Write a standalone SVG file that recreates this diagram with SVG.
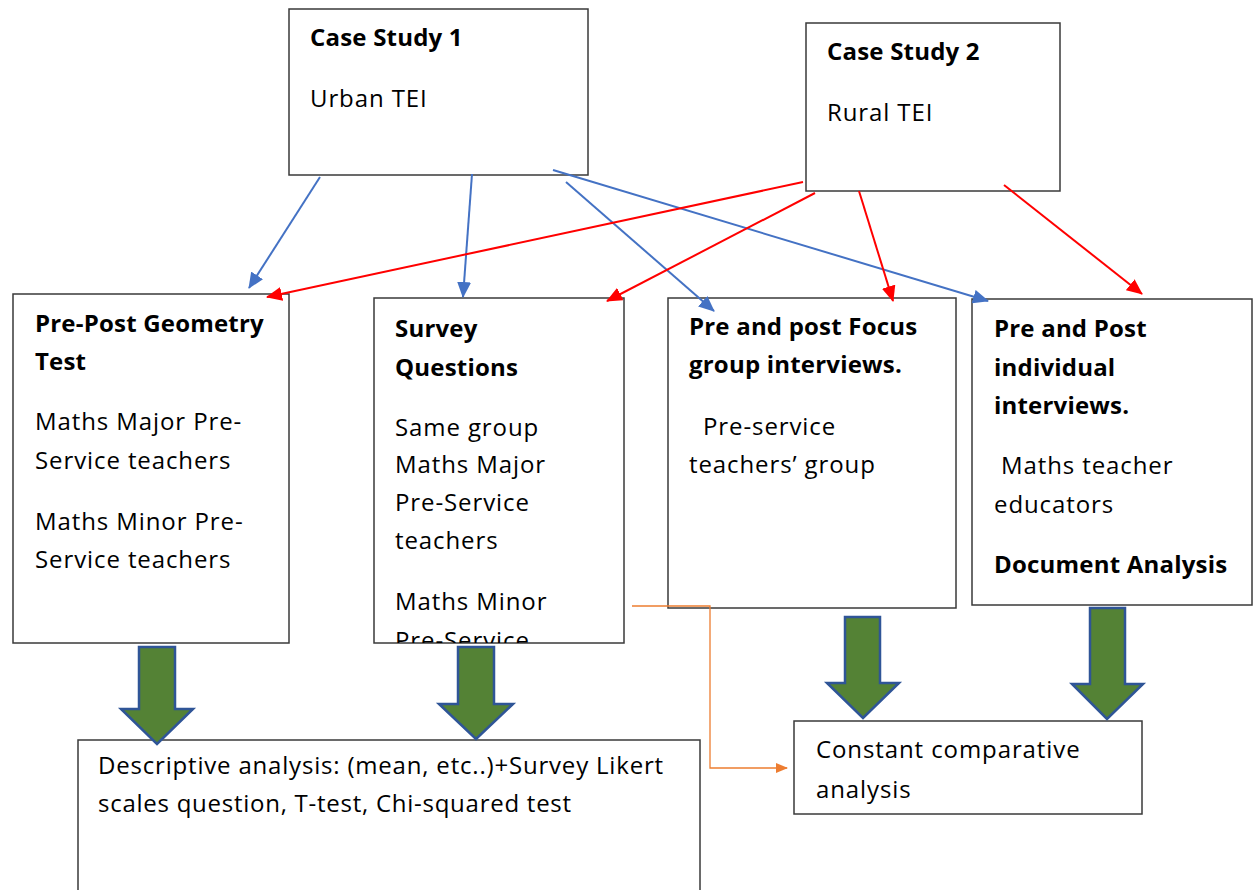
<svg xmlns="http://www.w3.org/2000/svg" width="1257" height="890" viewBox="0 0 1257 890">
<style>
.box{fill:#fff;stroke:#3a3a3a;stroke-width:1.5}
text{font-family:"Open Sans","Liberation Sans",sans-serif;font-size:24px;fill:#000;letter-spacing:0.9px}
text.b{font-weight:bold;letter-spacing:0.2px}
.blue{stroke:#4472C4;stroke-width:2;fill:none}
.red{stroke:#FF0000;stroke-width:2;fill:none}
.org{stroke:#ED7D31;stroke-width:1.3;fill:none}
.big{fill:#548235;stroke:#2F5597;stroke-width:2.5;stroke-linejoin:miter}
</style>
<defs>
<marker id="ab" markerUnits="userSpaceOnUse" markerWidth="16" markerHeight="14" refX="15" refY="7" orient="auto"><path d="M0,0 L16,7 L0,14 Z" fill="#4472C4"/></marker>
<marker id="ar" markerUnits="userSpaceOnUse" markerWidth="16" markerHeight="14" refX="15" refY="7" orient="auto"><path d="M0,0 L16,7 L0,14 Z" fill="#FF0000"/></marker>
<marker id="ao" markerUnits="userSpaceOnUse" markerWidth="12" markerHeight="10" refX="11" refY="5" orient="auto"><path d="M0,0 L12,5 L0,10 Z" fill="#ED7D31"/></marker>
<clipPath id="csurvey"><rect x="374" y="298" width="250" height="345"/></clipPath>
</defs>

<g id="case1">
<rect class="box" x="289" y="9" width="299" height="166"/>
<text class="b" x="310" y="46">Case Study 1</text>
<text x="310" y="107">Urban TEI</text>
</g>
<g id="case2">
<rect class="box" x="806" y="23" width="254" height="168"/>
<text class="b" x="827" y="60">Case Study 2</text>
<text x="827" y="121">Rural TEI</text>
</g>

<g id="geometry">
<rect class="box" x="13" y="294" width="276" height="349"/>
<text class="b" x="35" y="332">Pre-Post Geometry</text>
<text class="b" x="35" y="370">Test</text>
<text x="35" y="430">Maths Major Pre-</text>
<text x="35" y="469">Service teachers</text>
<text x="35" y="530">Maths Minor Pre-</text>
<text x="35" y="568">Service teachers</text>
</g>

<g id="survey">
<rect class="box" x="374" y="298" width="250" height="345"/>
<g clip-path="url(#csurvey)">
<text class="b" x="395" y="337">Survey</text>
<text class="b" x="395" y="376">Questions</text>
<text x="395" y="436">Same group</text>
<text x="395" y="473">Maths Major</text>
<text x="395" y="511">Pre-Service</text>
<text x="395" y="549">teachers</text>
<text x="395" y="610">Maths Minor</text>
<text x="395" y="649">Pre-Service</text>
</g>
</g>

<g id="focus">
<rect class="box" x="668" y="298" width="288" height="310"/>
<text class="b" x="689" y="335">Pre and post Focus</text>
<text class="b" x="689" y="373">group interviews.</text>
<text x="703" y="435">Pre-service</text>
<text x="689" y="473">teachers’ group</text>
</g>

<g id="individual">
<rect class="box" x="972" y="299" width="280" height="306"/>
<text class="b" x="994" y="337">Pre and Post</text>
<text class="b" x="994" y="376">individual</text>
<text class="b" x="994" y="414">interviews.</text>
<text x="1001" y="474">Maths teacher</text>
<text x="994" y="513">educators</text>
<text class="b" x="994" y="573">Document Analysis</text>
</g>

<g id="descriptive">
<rect class="box" x="78" y="740" width="622" height="160"/>
<text x="98" y="774" textLength="566" lengthAdjust="spacing">Descriptive analysis: (mean, etc..)+Survey Likert</text>
<text x="98" y="812" textLength="474" lengthAdjust="spacing">scales question, T-test, Chi-squared test</text>
</g>

<g id="constant">
<rect class="box" x="794" y="721" width="348" height="93"/>
<text x="816" y="758">Constant comparative</text>
<text x="816" y="798">analysis</text>
</g>

<g id="connectors">
<line class="blue" x1="320" y1="177" x2="249" y2="288" marker-end="url(#ab)"/>
<line class="blue" x1="472" y1="174" x2="463" y2="297" marker-end="url(#ab)"/>
<line class="blue" x1="566" y1="182" x2="714" y2="311" marker-end="url(#ab)"/>
<line class="blue" x1="553" y1="170" x2="988" y2="301" marker-end="url(#ab)"/>
<line class="red" x1="803" y1="182" x2="267" y2="297" marker-end="url(#ar)"/>
<line class="red" x1="815" y1="193" x2="607" y2="301" marker-end="url(#ar)"/>
<line class="red" x1="859" y1="191" x2="893" y2="301" marker-end="url(#ar)"/>
<line class="red" x1="1004" y1="185" x2="1142" y2="294" marker-end="url(#ar)"/>
<polyline class="org" points="632,606 710,606 710,768 787,768" marker-end="url(#ao)"/>
<path class="big" d="M139,647 H175 V709 H193 L157,744 L121,709 H139 Z"/>
<path class="big" d="M458,647 H494 V704 H513 L476,739 L439,704 H458 Z"/>
<path class="big" d="M845,617 H880 V683 H899 L863,718 L827,683 H845 Z"/>
<path class="big" d="M1090,608 H1125 V684 H1143 L1107,719 L1072,684 H1090 Z"/>
</g>
</svg>
